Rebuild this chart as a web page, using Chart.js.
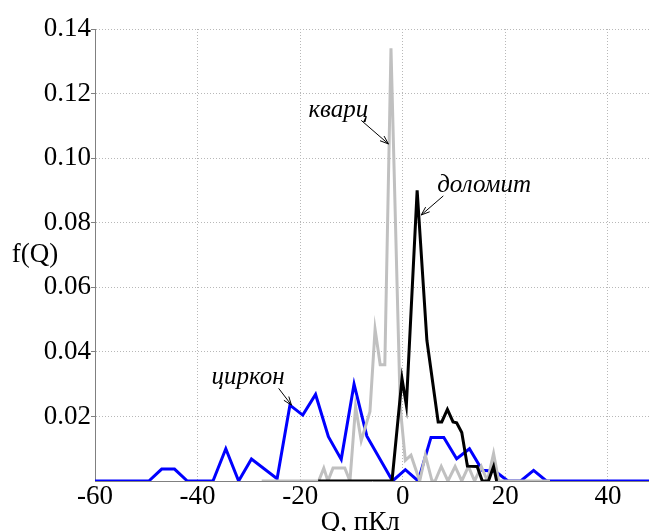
<!DOCTYPE html>
<html>
<head>
<meta charset="utf-8">
<script src="https://cdn.jsdelivr.net/npm/chart.js@4/dist/chart.umd.min.js"></script>
<style>
  html, body { margin: 0; padding: 0; background: #ffffff; }
  #wrap { width: 649px; height: 531px; }
</style>
</head>
<body>
<div id="wrap"><canvas id="c" width="649" height="531"></canvas></div>
<script>
// ---- data ----
const xTickValues = [-60, -40, -20, 0, 20, 40];
const yTickValues = [0.02, 0.04, 0.06, 0.08, 0.10, 0.12, 0.14];

// циркон (blue)
const zirconQ = [-60, -49.5, -47, -44.5, -42, -37, -34.5, -32, -29.5, -24.5, -22, -19.5, -17, -14.5, -12, -9.5, -7, -2, 0.5, 3, 5.5, 8, 10.5, 13, 15.5, 18, 20.5, 23, 25.5, 28, 48];
const zirconF = [0, 0, 0.0037, 0.0037, 0, 0, 0.010, 0, 0.0068, 0.0007, 0.0235, 0.0204, 0.0268, 0.0137, 0.0067, 0.030, 0.0139, 0, 0.0035, 0, 0.0135, 0.0135, 0.0069, 0.010, 0.0033, 0.003, 0, 0, 0.0033, 0, 0];

// кварц (gray)
const quartzQ = [-27.5, -16.4, -15.4, -14.6, -13.6, -11.3, -10.3, -9.2, -8.1, -6.4, -5.4, -4.4, -3.5, -2.3, -0.5, 0.5, 1.6, 3.3, 4.4, 5.7, 6.3, 7.5, 8.8, 10.2, 11.5, 12.8, 14.0, 15.3, 16.5, 17.7, 18.7, 28.7];
const quartzF = [0, 0, 0.004, 0, 0.004, 0.004, 0, 0.023, 0.0125, 0.0215, 0.047, 0.036, 0.036, 0.134, 0.023, 0.0064, 0.008, 0, 0.008, 0, 0, 0.0045, 0, 0.0045, 0, 0.0045, 0, 0.0045, 0, 0.0085, 0, 0];

// доломит (black)
const dolomiteQ = [-16.5, -2.1, -0.15, 0.7, 2.8, 4.7, 6.9, 7.6, 8.7, 9.8, 10.5, 11.5, 12.6, 14.5, 15.5, 16.7, 17.7, 18.3];
const dolomiteF = [0, 0, 0.0317, 0.0235, 0.09, 0.0436, 0.0183, 0.0183, 0.0222, 0.0183, 0.018, 0.015, 0.0046, 0.0045, 0, 0, 0.0045, 0];

const seriesNames = ['циркон', 'кварц', 'доломит'];
const xTitle = 'Q, пКл';
const yTitle = 'f(Q)';

function pts(xs, ys) { return xs.map((x, i) => ({ x: x, y: ys[i] })); }

const SERIF = '"Liberation Serif", "Times New Roman", serif';

// annotation placement (in data units)
const notes = [
  { text: 'кварц',   tx: -18.4, ty: 0.1128, ax1: -8.1, ay1: 0.1117, ax2: -2.8, ay2: 0.1044 },
  { text: 'доломит', tx: 6.7,   ty: 0.0895, ax1: 7.9,  ay1: 0.0883, ax2: 3.6,  ay2: 0.0824 },
  { text: 'циркон',  tx: -37.3, ty: 0.0300, ax1: -24.2, ay1: 0.0287, ax2: -21.7, ay2: 0.0235 }
];

const textPlugin = {
  id: 'texts',
  afterDraw(chart) {
    const ctx = chart.ctx;
    const xs = chart.scales.x, ys = chart.scales.y;
    ctx.save();
    ctx.fillStyle = '#000';
    ctx.strokeStyle = '#000';
    // annotations
    ctx.font = 'italic 25px ' + SERIF;
    ctx.textAlign = 'left';
    ctx.textBaseline = 'alphabetic';
    notes.forEach(n => {
      ctx.fillText(n.text, xs.getPixelForValue(n.tx), ys.getPixelForValue(n.ty));
      const x1 = xs.getPixelForValue(n.ax1), y1 = ys.getPixelForValue(n.ay1);
      const x2 = xs.getPixelForValue(n.ax2), y2 = ys.getPixelForValue(n.ay2);
      ctx.lineWidth = 1;
      ctx.beginPath(); ctx.moveTo(x1, y1); ctx.lineTo(x2, y2); ctx.stroke();
      const a = Math.atan2(y2 - y1, x2 - x1), L = 9, W = 0.35;
      ctx.beginPath();
      ctx.moveTo(x2, y2);
      ctx.lineTo(x2 - L * Math.cos(a - W), y2 - L * Math.sin(a - W));
      ctx.moveTo(x2, y2);
      ctx.lineTo(x2 - L * Math.cos(a + W), y2 - L * Math.sin(a + W));
      ctx.stroke();
    });
    // axis titles
    ctx.font = '27px ' + SERIF;
    ctx.textAlign = 'center';
    ctx.textBaseline = 'middle';
    ctx.fillText(yTitle, 35, ys.getPixelForValue(0.07));
    ctx.textBaseline = 'alphabetic';
    ctx.fillText(xTitle, xs.getPixelForValue(-8.3), 530);
    ctx.restore();
  }
};

new Chart(document.getElementById('c'), {
  type: 'scatter',
  data: {
    datasets: [
      { label: seriesNames[2], data: pts(dolomiteQ, dolomiteF), showLine: true, borderColor: '#000000', borderWidth: 3, pointRadius: 0, order: 1 },
      { label: seriesNames[1], data: pts(quartzQ, quartzF), showLine: true, borderColor: '#c0c0c0', borderWidth: 3, pointRadius: 0, order: 2 },
      { label: seriesNames[0], data: pts(zirconQ, zirconF), showLine: true, borderColor: '#0000ff', borderWidth: 3, pointRadius: 0, order: 3 }
    ]
  },
  options: {
    responsive: false,
    animation: false,
    events: [],
    layout: { padding: { top: 29, right: 0, left: 0, bottom: 0 } },
    plugins: { legend: { display: false }, tooltip: { enabled: false } },
    scales: {
      x: {
        type: 'linear', min: -60, max: 48,
        afterBuildTicks: s => { s.ticks = xTickValues.map(v => ({ value: v })); },
        afterFit: s => { s.height = 50; },
        ticks: { color: '#000', font: { family: SERIF, size: 27 }, padding: 0, maxRotation: 0, autoSkip: false, callback: v => String(v) },
        grid: { color: '#b8b8b8', lineWidth: 1, drawTicks: false, tickLength: 0 },
        border: { display: true, color: '#808080', width: 1, dash: [1, 2] }
      },
      y: {
        type: 'linear', min: 0, max: 0.14,
        afterBuildTicks: s => { s.ticks = yTickValues.map(v => ({ value: v })); },
        afterFit: s => { s.width = 95; },
        ticks: { color: '#000', font: { family: SERIF, size: 27 }, padding: 0, autoSkip: false, callback: v => v.toFixed(2) },
        grid: { color: '#b8b8b8', lineWidth: 1, drawTicks: true, tickLength: 4, tickColor: '#808080', tickBorderDash: [] },
        border: { display: true, color: '#808080', width: 1, dash: [1, 2] }
      }
    }
  },
  plugins: [textPlugin]
});
</script>
</body>
</html>
